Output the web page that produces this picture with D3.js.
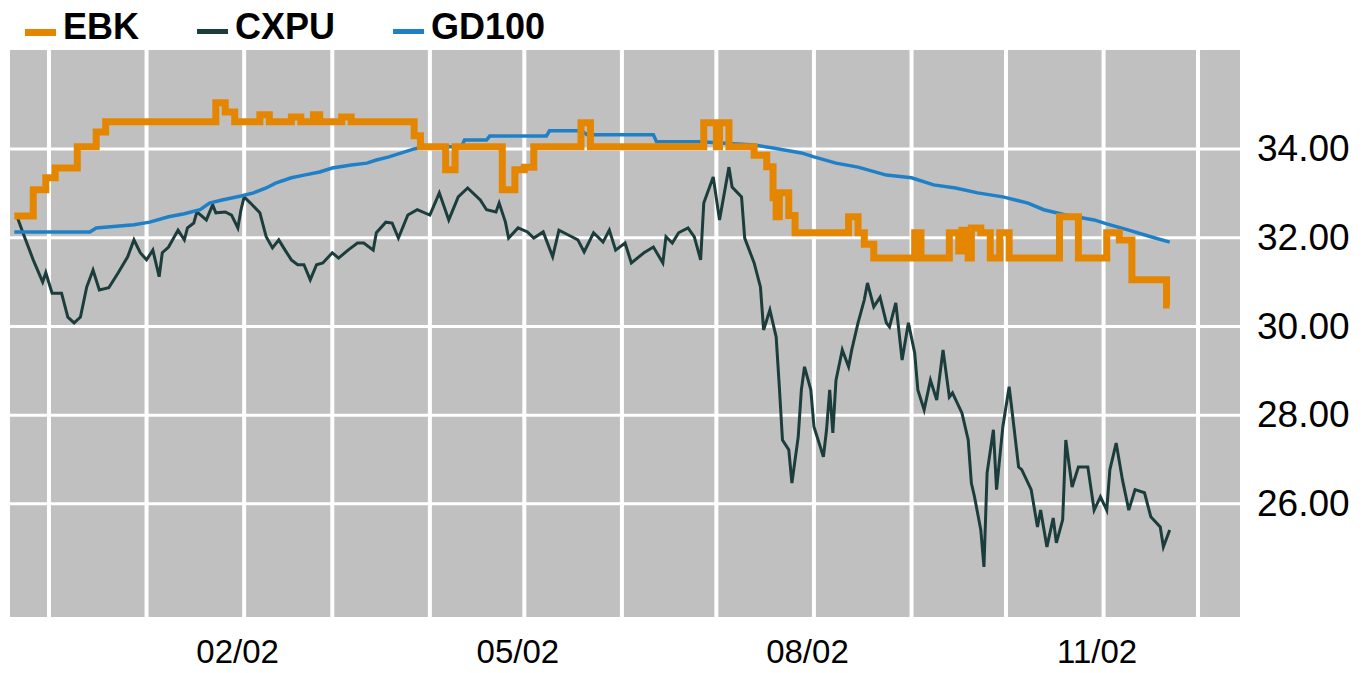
<!DOCTYPE html>
<html>
<head>
<meta charset="utf-8">
<script src="https://cdn.jsdelivr.net/npm/d3@7"></script>
<style>
  html, body { margin: 0; padding: 0; background: #fff; overflow: hidden; }
  svg { display: block; }
  text { font-family: "Liberation Sans", Arial, sans-serif; }
</style>
</head>
<body>
<div id="chart"></div>
<script>
var seriesNames = ["EBK", "CXPU", "GD100"];
var seriesColors = ["#e58600", "#1b3d3b", "#1f80c8"];

var yTicks = [26, 28, 30, 32, 34];
var xTickDates = ["2002-02-01", "2002-05-01", "2002-08-01", "2002-11-01"];

// CXPU daily close (dark line)
var cxpu = [
  ["2001-11-21",32.45],["2001-11-23",32.06],["2001-11-26",31.50],["2001-11-29",31.00],["2001-11-30",31.21],
  ["2001-12-02",30.75],["2001-12-05",30.75],["2001-12-07",30.21],["2001-12-09",30.08],["2001-12-11",30.21],
  ["2001-12-13",30.89],["2001-12-15",31.27],["2001-12-17",30.82],["2001-12-20",30.87],["2001-12-23",31.21],
  ["2001-12-26",31.57],["2001-12-28",31.95],["2001-12-30",31.66],["2002-01-01",31.50],["2002-01-03",31.72],
  ["2002-01-05",31.12],["2002-01-06",31.66],["2002-01-08",31.79],["2002-01-11",32.17],["2002-01-13",31.95],
  ["2002-01-14",32.22],["2002-01-16",32.33],["2002-01-17",32.58],["2002-01-20",32.40],["2002-01-22",32.74],
  ["2002-01-23",32.56],["2002-01-26",32.58],["2002-01-28",32.51],["2002-01-30",32.22],["2002-01-31",32.63],
  ["2002-02-01",32.92],["2002-02-03",32.78],["2002-02-06",32.56],["2002-02-08",32.02],["2002-02-10",31.77],
  ["2002-02-12",31.95],["2002-02-14",31.72],["2002-02-16",31.50],["2002-02-18",31.39],["2002-02-20",31.39],
  ["2002-02-22",31.05],["2002-02-24",31.39],["2002-02-26",31.43],["2002-03-01",31.66],["2002-03-03",31.54],
  ["2002-03-06",31.72],["2002-03-09",31.88],["2002-03-11",31.88],["2002-03-14",31.72],["2002-03-15",32.11],
  ["2002-03-18",32.35],["2002-03-20",32.33],["2002-03-22",31.99],["2002-03-25",32.51],["2002-03-28",32.63],
  ["2002-04-01",32.51],["2002-04-04",33.01],["2002-04-07",32.40],["2002-04-10",32.92],["2002-04-13",33.12],
  ["2002-04-17",32.85],["2002-04-19",32.63],["2002-04-22",32.58],["2002-04-23",32.78],["2002-04-25",32.35],
  ["2002-04-26",31.99],["2002-04-29",32.22],["2002-05-02",32.13],["2002-05-04",31.99],["2002-05-07",32.13],
  ["2002-05-10",31.57],["2002-05-12",32.17],["2002-05-15",32.06],["2002-05-18",31.95],["2002-05-20",31.68],
  ["2002-05-23",32.11],["2002-05-26",31.90],["2002-05-28",32.17],["2002-05-30",31.72],["2002-06-02",31.88],
  ["2002-06-04",31.43],["2002-06-08",31.66],["2002-06-11",31.79],["2002-06-14",31.43],["2002-06-15",32.02],
  ["2002-06-17",31.88],["2002-06-19",32.11],["2002-06-22",32.22],["2002-06-24",32.02],["2002-06-26",31.50],
  ["2002-06-27",32.78],["2002-06-30",33.37],["2002-07-02",32.40],["2002-07-05",33.59],["2002-07-06",33.14],
  ["2002-07-09",32.92],["2002-07-10",31.99],["2002-07-13",31.43],["2002-07-15",30.89],["2002-07-16",29.92],
  ["2002-07-18",30.37],["2002-07-20",29.76],["2002-07-21",28.64],["2002-07-22",27.44],["2002-07-24",27.22],
  ["2002-07-25",26.47],["2002-07-27",27.51],["2002-07-28",28.57],["2002-07-29",29.09],["2002-07-31",28.57],
  ["2002-08-01",27.74],["2002-08-04",27.06],["2002-08-05",27.67],["2002-08-06",28.57],["2002-08-07",27.60],
  ["2002-08-08",28.79],["2002-08-10",29.47],["2002-08-12",29.09],["2002-08-13",29.47],["2002-08-15",30.08],
  ["2002-08-17",30.60],["2002-08-18",30.98],["2002-08-20",30.44],["2002-08-22",30.66],["2002-08-24",30.08],
  ["2002-08-25",29.99],["2002-08-27",30.53],["2002-08-29",29.24],["2002-08-31",30.08],["2002-09-02",29.40],
  ["2002-09-03",28.57],["2002-09-05",28.12],["2002-09-07",28.79],["2002-09-09",28.34],["2002-09-11",29.47],
  ["2002-09-13",28.41],["2002-09-14",28.50],["2002-09-17",28.05],["2002-09-19",27.44],["2002-09-20",26.47],
  ["2002-09-21",26.16],["2002-09-23",25.41],["2002-09-24",24.58],["2002-09-25",26.70],["2002-09-27",27.67],
  ["2002-09-28",26.32],["2002-09-30",27.74],["2002-10-02",28.64],["2002-10-03",28.05],["2002-10-05",26.83],
  ["2002-10-06",26.77],["2002-10-09",26.32],["2002-10-11",25.48],["2002-10-12",25.86],["2002-10-14",25.03],
  ["2002-10-16",25.68],["2002-10-17",25.12],["2002-10-19",25.64],["2002-10-20",27.44],["2002-10-22",26.38],
  ["2002-10-24",26.83],["2002-10-27",26.83],["2002-10-29",25.86],["2002-10-31",26.16],["2002-11-02",25.86],
  ["2002-11-03",26.77],["2002-11-05",27.37],["2002-11-07",26.54],["2002-11-09",25.86],["2002-11-11",26.32],
  ["2002-11-14",26.25],["2002-11-16",25.71],["2002-11-19",25.48],["2002-11-20",25.03],["2002-11-22",25.41]
];

// GD100 moving average (blue line)
var gd100 = [
  ["2001-11-20",32.13],["2001-12-14",32.13],["2001-12-16",32.22],["2001-12-28",32.29],["2002-01-02",32.35],
  ["2002-01-08",32.47],["2002-01-13",32.54],["2002-01-18",32.63],["2002-01-21",32.78],["2002-01-25",32.85],
  ["2002-01-31",32.94],["2002-02-04",33.01],["2002-02-08",33.12],["2002-02-11",33.23],["2002-02-16",33.35],
  ["2002-02-20",33.41],["2002-02-25",33.48],["2002-03-01",33.57],["2002-03-07",33.64],["2002-03-12",33.68],
  ["2002-03-15",33.75],["2002-03-19",33.82],["2002-03-23",33.91],["2002-03-27",34.00],["2002-03-31",34.05],
  ["2002-04-11",34.05],["2002-04-12",34.20],["2002-04-19",34.20],["2002-04-20",34.29],["2002-05-08",34.29],
  ["2002-05-09",34.41],["2002-05-19",34.41],["2002-05-21",34.32],["2002-06-11",34.32],["2002-06-12",34.16],
  ["2002-06-26",34.16],["2002-07-13",34.09],["2002-07-19",34.02],["2002-07-28",33.91],["2002-08-01",33.82],
  ["2002-08-08",33.68],["2002-08-15",33.59],["2002-08-24",33.41],["2002-09-01",33.35],["2002-09-08",33.19],
  ["2002-09-15",33.12],["2002-09-22",33.01],["2002-09-30",32.92],["2002-10-08",32.78],["2002-10-13",32.63],
  ["2002-10-20",32.51],["2002-10-29",32.40],["2002-11-02",32.31],["2002-11-09",32.17],["2002-11-16",32.02],
  ["2002-11-22",31.90]
];

// EBK price (orange, stepped)
var ebk = [
  ["2001-11-20",32.49],["2001-11-26",33.08],["2001-11-30",33.35],["2001-12-03",33.57],["2001-12-10",34.05],
  ["2001-12-16",34.38],["2001-12-19",34.61],["2002-01-23",35.04],["2002-01-26",34.83],["2002-01-29",34.61],
  ["2002-02-06",34.77],["2002-02-09",34.61],["2002-02-16",34.72],["2002-02-19",34.61],["2002-02-23",34.77],
  ["2002-02-25",34.61],["2002-03-04",34.72],["2002-03-07",34.61],["2002-03-27",34.30],["2002-03-29",34.05],
  ["2002-04-06",33.53],["2002-04-09",34.05],["2002-04-24",33.08],["2002-04-28",33.53],["2002-05-01",33.59],
  ["2002-05-04",34.05],["2002-05-19",34.59],["2002-05-22",34.05],["2002-06-27",34.59],["2002-07-01",34.05],
  ["2002-07-02",34.59],["2002-07-05",34.05],["2002-07-13",33.86],["2002-07-17",33.60],["2002-07-19",32.90],
  ["2002-07-20",32.47],["2002-07-21",33.01],["2002-07-24",32.50],["2002-07-26",32.11],["2002-08-12",32.47],
  ["2002-08-15",32.11],["2002-08-17",31.85],["2002-08-20",31.54],["2002-09-02",32.11],["2002-09-04",31.54],
  ["2002-09-13",32.11],["2002-09-16",31.70],["2002-09-17",32.17],["2002-09-19",31.54],["2002-09-20",32.22],
  ["2002-09-23",32.11],["2002-09-26",31.54],["2002-09-29",32.11],["2002-10-02",31.54],["2002-10-18",32.47],
  ["2002-10-24",31.54],["2002-11-02",32.11],["2002-11-06",31.95],["2002-11-10",31.05],["2002-11-21",30.48],
  ["2002-11-22",30.48]
];

var width = 1370, height = 673;
var margin = {top: 50, right: 130, bottom: 56, left: 10};
var innerWidth = width - margin.left - margin.right,
    innerHeight = height - margin.top - margin.bottom;

var parse = d3.timeParse("%Y-%m-%d");

var svg = d3.select("#chart").append("svg")
    .attr("width", width)
    .attr("height", height);

var g = svg.append("g").attr("transform", "translate(" + margin.left + "," + margin.top + ")");

var x = d3.scaleTime()
    .domain([new Date(2001, 10, 18, 15), new Date(2002, 11, 14, 8)])
    .range([0, innerWidth]);

var y = d3.scaleLinear()
    .domain([23.45, 36.23])
    .range([innerHeight, 0]);

g.append("rect")
    .attr("width", innerWidth)
    .attr("height", innerHeight)
    .attr("fill", "#c0c0c0");

// grid
g.append("g").selectAll("line")
    .data(d3.timeMonth.range(new Date(2001, 11, 1), new Date(2002, 11, 2)))
    .enter().append("line")
      .attr("x1", function(d) { return x(d); })
      .attr("x2", function(d) { return x(d); })
      .attr("y1", 0)
      .attr("y2", innerHeight)
      .attr("stroke", "#fff")
      .attr("stroke-width", 4);

g.append("g").selectAll("line")
    .data(yTicks)
    .enter().append("line")
      .attr("x1", 0)
      .attr("x2", innerWidth)
      .attr("y1", function(d) { return y(d); })
      .attr("y2", function(d) { return y(d); })
      .attr("stroke", "#fff")
      .attr("stroke-width", 3);

// lines
var line = d3.line()
    .x(function(d) { return x(parse(d[0])); })
    .y(function(d) { return y(d[1]); });

g.append("path")
    .datum(cxpu)
    .attr("fill", "none")
    .attr("stroke", seriesColors[1])
    .attr("stroke-width", 3)
    .attr("d", line);

g.append("path")
    .datum(gd100)
    .attr("fill", "none")
    .attr("stroke", seriesColors[2])
    .attr("stroke-width", 3.5)
    .attr("d", line);

g.append("path")
    .datum(ebk)
    .attr("fill", "none")
    .attr("stroke", seriesColors[0])
    .attr("stroke-width", 7)
    .attr("d", line.curve(d3.curveStepAfter));

// y axis on right
var yAxis = g.append("g")
    .attr("transform", "translate(" + (innerWidth + 17) + ",0)")
    .call(d3.axisRight(y).tickValues(yTicks).tickFormat(d3.format(".2f")).tickSize(0).tickPadding(0));
yAxis.select(".domain").remove();
yAxis.selectAll("text")
    .attr("font-family", "'Liberation Sans', Arial, sans-serif")
    .attr("font-size", 37)
    .attr("fill", "#000");

// x axis
var xAxis = g.append("g")
    .attr("transform", "translate(0," + innerHeight + ")")
    .call(d3.axisBottom(x).tickValues(xTickDates.map(parse)).tickFormat(d3.timeFormat("%m/%y")).tickSize(0).tickPadding(23));
xAxis.select(".domain").remove();
xAxis.selectAll("text")
    .attr("font-family", "'Liberation Sans', Arial, sans-serif")
    .attr("font-size", 33)
    .attr("dx", -7)
    .attr("fill", "#000");

// legend
var legend = svg.append("g").attr("transform", "translate(25,0)");
var lx = 0;
seriesNames.forEach(function(name, i) {
  legend.append("rect")
      .attr("x", lx)
      .attr("y", 29)
      .attr("width", 31)
      .attr("height", i === 0 ? 7 : 5)
      .attr("fill", seriesColors[i]);
  var t = legend.append("text")
      .attr("x", lx + 38)
      .attr("y", 39)
      .attr("font-size", 36)
      .attr("font-weight", "bold")
      .attr("fill", "#000")
      .text(name);
  lx += 38 + t.node().getComputedTextLength() + 58;
});
</script>
</body>
</html>
